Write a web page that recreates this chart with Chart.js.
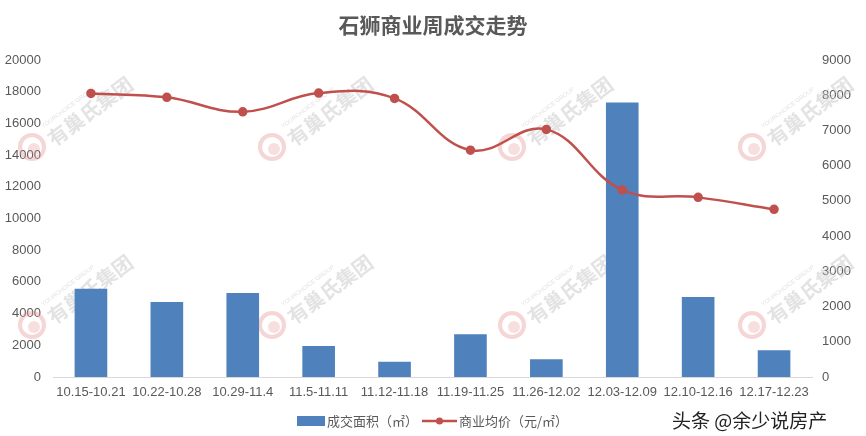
<!DOCTYPE html>
<html>
<head>
<meta charset="utf-8">
<script src="https://cdn.jsdelivr.net/npm/chart.js@4/dist/chart.umd.min.js"></script>
<style>
html,body{margin:0;padding:0;background:#fff}
#wrap{width:866px;height:436px;position:relative}
</style>
</head>
<body>
<div id="wrap"><canvas id="grafico" width="866" height="436"></canvas></div>
<script>
let titulo = "石狮商业周成交走势"
let semanas = ["10.15-10.21","10.22-10.28","10.29-11.4","11.5-11.11","11.12-11.18","11.19-11.25","11.26-12.02","12.03-12.09","12.10-12.16","12.17-12.23"]
let area = [5570,4730,5300,1960,970,2700,1120,17320,5040,1690]
let preco = [8050,7940,7530,8060,7910,6440,7030,5310,5100,4760]
let nomeArea = "成交面积（㎡）"
let nomePreco = "商业均价（元/㎡）"
let assinatura = "头条 @余少说房产"
let marca = "有巢氏集团"

let azul = "#4F81BD"
let vermelho = "#C0504D"
let cinza = "#595959"

// marcas d'agua, titulo, legenda
let extras = {
id:"extras",
beforeDatasetsDraw(chart){
let c = chart.ctx
let xs = [32,272,512,752]
let ys = [147,325]
c.save()
for(let x of xs){
for(let y of ys){
c.save()
c.translate(x,y)
c.strokeStyle = "rgba(230,150,150,0.4)"
c.lineWidth = 4
c.beginPath()
c.arc(0,0,12,0,Math.PI*2)
c.stroke()
c.fillStyle = "rgba(230,150,150,0.3)"
c.beginPath()
c.arc(2,2,6,0,Math.PI*2)
c.fill()
c.rotate(-0.64)
c.fillStyle = "rgba(200,200,200,0.5)"
c.font = "bold 20px 'Noto Sans CJK SC'"
c.textBaseline = "middle"
c.fillText(marca,18,6)
c.font = "6px 'Liberation Sans'"
c.fillText("YOURCHOICE GROUP",20,-10)
c.restore()
}
}
c.restore()
},
afterDraw(chart){
let c = chart.ctx
c.save()
c.fillStyle = cinza
c.font = "bold 21px 'Noto Sans CJK SC'"
c.textAlign = "center"
c.textBaseline = "middle"
c.fillText(titulo,433,25)

c.font = "13px 'Noto Sans CJK SC'"
c.textAlign = "left"
c.fillStyle = azul
c.fillRect(297,416,28,10)
c.fillStyle = cinza
c.fillText(nomeArea,327,421)

c.strokeStyle = vermelho
c.lineWidth = 2.5
c.beginPath()
c.moveTo(422,421)
c.lineTo(457,421)
c.stroke()
c.fillStyle = vermelho
c.beginPath()
c.arc(439.5,421,3.5,0,Math.PI*2)
c.fill()
c.fillStyle = cinza
c.fillText(nomePreco,459,421)

c.font = "19px 'Noto Sans CJK SC'"
c.fillStyle = "#222"
c.strokeStyle = "#fff"
c.lineWidth = 3
c.strokeText(assinatura,672,421)
c.fillText(assinatura,672,421)
c.restore()
}
}

let fonteTick = {family:"'Liberation Sans', 'Noto Sans CJK SC'", size:13}

new Chart(document.getElementById("grafico"),{
data:{
labels:semanas,
datasets:[
{
type:"line",
label:nomePreco,
data:preco,
yAxisID:"y1",
borderColor:vermelho,
backgroundColor:vermelho,
borderWidth:2.5,
pointRadius:3.5,
pointHoverRadius:3.5,
tension:0.4
},
{
type:"bar",
label:nomeArea,
data:area,
yAxisID:"y",
backgroundColor:azul,
categoryPercentage:1,
barPercentage:0.43
}
]
},
options:{
responsive:false,
animation:false,
layout:{padding:{top:60,bottom:30,left:0,right:0}},
plugins:{
legend:{display:false},
title:{display:false},
tooltip:{enabled:false}
},
scales:{
x:{
grid:{display:false,drawTicks:false},
border:{color:"#D9D9D9",width:1},
ticks:{color:cinza,font:fonteTick,padding:8,maxRotation:0,autoSkip:false},
afterFit(s){ s.height = 29 }
},
y:{
position:"left",
min:0,max:20000,
grid:{display:false,drawTicks:false},
border:{display:false},
ticks:{stepSize:2000,color:cinza,font:fonteTick,padding:12,callback:v => String(v)},
afterFit(s){ s.width = 53 }
},
y1:{
position:"right",
min:0,max:9000,
grid:{display:false,drawTicks:false},
border:{display:false},
ticks:{stepSize:1000,color:cinza,font:fonteTick,padding:10,callback:v => String(v)},
afterFit(s){ s.width = 54 }
}
}
},
plugins:[extras]
})
</script>
</body>
</html>
